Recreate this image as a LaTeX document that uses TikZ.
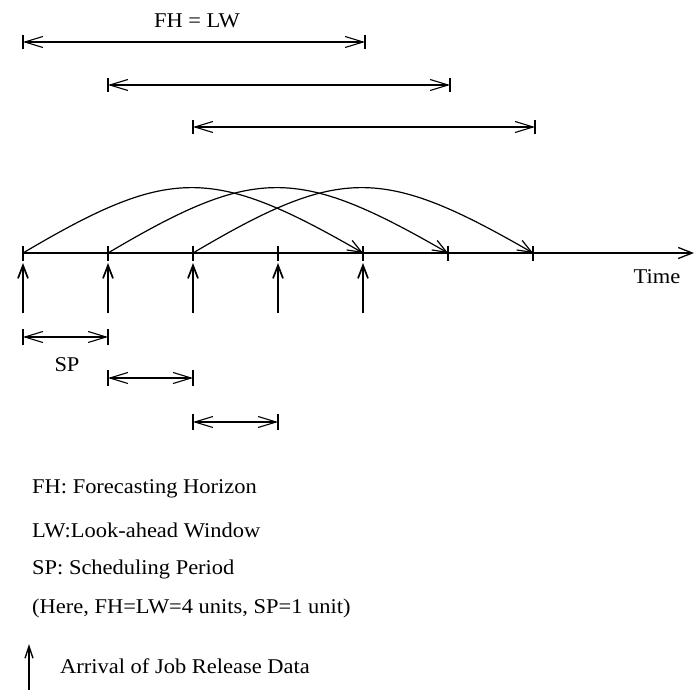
\documentclass[tikz,border=0pt]{standalone}
\usepackage{fontspec}
\setmainfont{Liberation Serif}[FakeStretch=1.07]
\usetikzlibrary{arrows.meta}
\begin{document}
\begin{tikzpicture}[x=1pt,y=-1pt,
  dimline/.style={line width=1.1pt,{Straight Barb[length=18pt,width=11pt]}-{Straight Barb[length=18pt,width=11pt]}},
  barline/.style={line width=1.4pt},
  axisline/.style={line width=1.3pt,-{Straight Barb[length=14pt,width=11pt]}},
  arc/.style={line width=1.2pt,-{Straight Barb[length=14pt,width=11pt]}},
  uparr/.style={line width=1.7pt,-{Straight Barb[length=13pt,width=10pt]}},
  lbl/.style={font=\fontsize{21}{24}\selectfont,inner sep=0pt},
  legend/.style={font=\fontsize{21}{24}\selectfont,inner sep=0pt,anchor=west}]
\useasboundingbox (0,0) rectangle (696,692);
% axis ticks
\foreach \i/\x in {0/23,1/108,2/193,3/278,4/363,5/448,6/533}{
  \coordinate (t\i) at (\x,253);
  \draw[barline] (\x,246) -- (\x,261);
}
\coordinate (axend) at (694,253);
\draw[axisline] (t0) -- (axend);
\node[lbl] (time) at (657,277) {Time};
% top dimension lines
\foreach \i/\a/\b/\y in {1/23/365/42,2/108/450/85,3/193/535/127}{
  \coordinate (l\i) at (\a,\y);
  \coordinate (r\i) at (\b,\y);
  \draw[dimline] (l\i) -- (r\i);
  \draw[barline] (\a,\y-7) -- (\a,\y+7);
  \draw[barline] (\b,\y-7) -- (\b,\y+7);
}
\node[lbl] (fhlw) at (197,21) {FH = LW};
% arcs
\draw[arc] (t0) .. controls (170,166) and (212,166) .. (t4);
\draw[arc] (t1) .. controls (255,166) and (297,166) .. (t5);
\draw[arc] (t2) .. controls (340,166) and (382,166) .. (t6);
% arrival arrows
\foreach \i/\x in {0/23,1/108,2/193,3/278,4/363}{
  \coordinate (ab\i) at (\x,313);
  \coordinate (at\i) at (\x,263);
  \draw[uparr] (ab\i) -- (at\i);
}
% SP dimension lines
\foreach \i/\a/\b/\y in {1/23/108/337,2/108/193/378,3/193/278/422}{
  \coordinate (sl\i) at (\a,\y);
  \coordinate (sr\i) at (\b,\y);
  \draw[dimline] (sl\i) -- (sr\i);
  \draw[barline] (\a,\y-8) -- (\a,\y+8);
  \draw[barline] (\b,\y-8) -- (\b,\y+8);
}
\node[lbl] (sp) at (67,365) {SP};
% legend
\node[legend] (fh) at (32,489) {FH: Forecasting Horizon};
\node[legend] (lw) at (32,530) {LW:Look-ahead Window};
\node[legend] (spl) at (32,569) {SP: Scheduling Period};
\node[legend] (here) at (32,608) {(Here, FH=LW=4 units, SP=1 unit)};
\coordinate (lgb) at (29,690);
\coordinate (lgt) at (29,644);
\draw[line width=1.4pt,-{Straight Barb[length=12pt,width=8pt]}] (lgb) -- (lgt);
\node[legend] (arr) at (60,666) {Arrival of Job Release Data};
\end{tikzpicture}
\end{document}
